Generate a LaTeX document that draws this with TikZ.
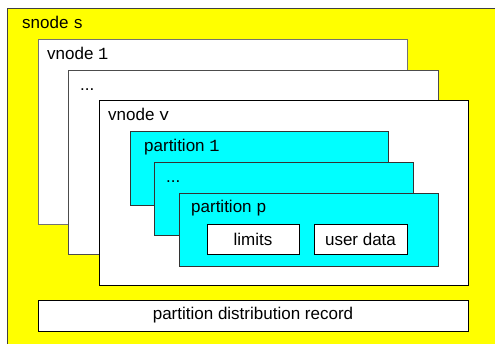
\documentclass[tikz,border=0pt]{standalone}
\usepackage{fontspec}
\setmainfont{Liberation Sans}
\setmonofont{Liberation Mono}
\usepackage{tikz}
\usepackage{xcolor}
\usetikzlibrary{positioning, shadows}

\definecolor{snodeyellow}{HTML}{FFFF00}
\definecolor{partcyan}{HTML}{00FFFF}

\begin{document}
\begin{tikzpicture}[x=1pt, y=-1pt,
    every node/.style={font=\fontsize{17}{20}\selectfont},
    box/.style={rectangle, draw, line width=0.8pt, inner sep=0pt, outer sep=0pt, anchor=north west, drop shadow={shadow xshift=1.2pt, shadow yshift=-1.2pt, opacity=0.35}},
    vbox/.style={box, fill=white},
    pbox/.style={box, fill=partcyan, draw=black!80},
    boxlbl/.style={anchor=base west, inner sep=0pt}]
  \useasboundingbox (0,0) rectangle (495,344);
  \clip (0,0) rectangle (495,344);
  \fill[white] (0,0) rectangle (495,344);
  \draw[fill=snodeyellow, draw=black!75, line width=0.8pt] (7,8) rectangle (505,354); %snode
  \node[boxlbl] (snodelbl) at (22,29) {snode \texttt{s}};
  % vnodes
  \node[vbox, draw=black!55, minimum width=369pt, minimum height=185pt] (vnode1) at (38,39) {};
  \node[boxlbl] (vnode1lbl) at (47,60) {vnode \texttt{1}};
  \node[vbox, draw=black!70, minimum width=370pt, minimum height=184pt] (vnodedots) at (68,70) {};
  \node[boxlbl] (vnodedotslbl) at (80,91) {...};
  \node[vbox, minimum width=369pt, minimum height=185pt] (vnodev) at (99,100) {};
  \node[boxlbl] (vnodevlbl) at (108,121) {vnode \texttt{v}};
  % partitions
  \node[pbox, minimum width=258pt, minimum height=74pt] (part1) at (130,131) {};
  \node[boxlbl] (part1lbl) at (144,152) {partition \texttt{1}};
  \node[pbox, minimum width=259pt, minimum height=73pt] (partdots) at (154,162) {};
  \node[boxlbl] (partdotslbl) at (166,183) {...};
  \node[pbox, minimum width=259pt, minimum height=73pt] (partp) at (179,193) {};
  \node[boxlbl] (partplbl) at (191,213) {partition \texttt{p}};
  \node[vbox, minimum width=92pt, minimum height=30pt] (limits) at (207,224) {limits};
  \node[vbox, minimum width=93pt, minimum height=30pt] (userdata) at (314,224) {user data};
  % distribution record
  \node[vbox, minimum width=430pt, minimum height=31pt] (distrec) at (38,300) {partition distribution record};
\end{tikzpicture}
\end{document}
